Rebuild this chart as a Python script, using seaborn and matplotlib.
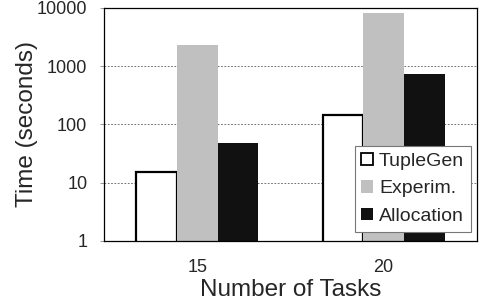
import matplotlib
matplotlib.use("Agg")
import matplotlib.pyplot as plt
import matplotlib.ticker as mticker
import pandas as pd
import seaborn as sns

# Data
tasks = ["15", "20"]
series = ["TupleGen", "Experim.", "Allocation"]
tuplegen = [15, 145]
experim = [2300, 8200]
allocation = [48, 730]
colors = ["#ffffff", "#c0c0c0", "#111111"]
y_ticks = [1, 10, 100, 1000, 10000]

rows = []
for name, vals in zip(series, [tuplegen, experim, allocation]):
    for t, v in zip(tasks, vals):
        rows.append({"tasks": t, "series": name, "time": v})
df = pd.DataFrame(rows)

sns.set_style("white")
plt.rcParams["font.family"] = ["Liberation Sans", "DejaVu Sans"]

fig, ax = plt.subplots(figsize=(4.87, 3.05), dpi=100)
fig.subplots_adjust(left=0.2136, right=0.979, top=0.974, bottom=0.21)

sns.barplot(data=df, x="tasks", y="time", hue="series", order=tasks,
            hue_order=series, palette=colors, width=0.655, ax=ax,
            legend=False, errorbar=None)

for cont, col in zip(ax.containers, colors):
    for p in cont.patches:
        p.set_facecolor(col)
        if col == "#ffffff":
            p.set_edgecolor("black")
            p.set_linewidth(1.6)
        else:
            p.set_edgecolor(col)
            p.set_linewidth(0)

ax.set_yscale("log")
ax.set_ylim(1, 10000)
ax.set_xlim(-0.5, 1.5)
ax.yaxis.set_major_locator(mticker.FixedLocator(y_ticks))
ax.yaxis.set_major_formatter(mticker.FixedFormatter([str(v) for v in y_ticks]))
ax.yaxis.set_minor_locator(mticker.NullLocator())

# grid lines
for v in y_ticks[1:-1]:
    ax.axhline(v, color="#555555", linestyle=(0, (2, 2)), linewidth=0.6, zorder=0)

# x ticks at category boundaries
ax.set_xticks([-0.5, 0.5, 1.5], minor=True)
ax.tick_params(axis="x", which="minor", length=5, width=0.8, color="#888888", direction="out")
ax.tick_params(axis="x", which="major", length=0, pad=13, labelsize=13)
ax.tick_params(axis="y", which="major", length=3, width=0.6, color="#888888",
               direction="out", pad=9, labelsize=13, left=True)

for s in ax.spines.values():
    s.set_visible(True)
    s.set_color("black")
    s.set_linewidth(0.9)

ax.set_xlabel("Number of Tasks", fontsize=17.5, labelpad=2)
ax.set_ylabel("Time (seconds)", fontsize=17.5, labelpad=-1)

leg = ax.legend(ax.containers, series, loc="lower right",
                bbox_to_anchor=(0.984, 0.039), fontsize=14, frameon=True,
                fancybox=False, edgecolor="#777777", framealpha=1,
                handlelength=0.6, handleheight=0.6, handletextpad=0.3,
                borderpad=0.35, labelspacing=0.55, borderaxespad=0)
leg.get_frame().set_linewidth(0.8)
for h in leg.legend_handles:
    h.set_linewidth(1.3 if h.get_facecolor()[0] == 1 else 0)

fig.savefig("out.png", dpi=100)
